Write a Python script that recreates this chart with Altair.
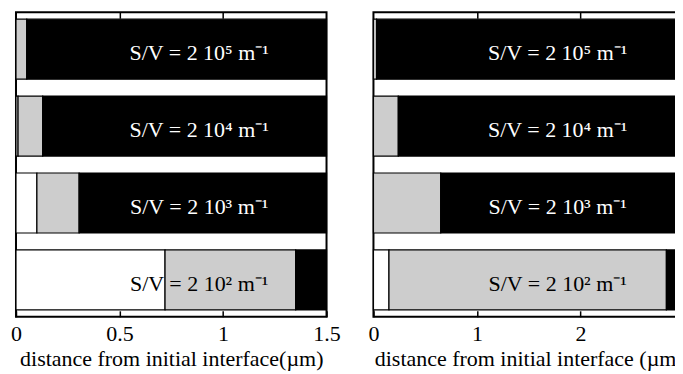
import altair as alt
import pandas as pd

# --- data ---
bars = ["2e5", "2e4", "2e3", "2e2"]
labels = ["S/V = 2 10⁵ m⁻¹", "S/V = 2 10⁴ m⁻¹", "S/V = 2 10³ m⁻¹", "S/V = 2 10² m⁻¹"]

left_white_end = [0.0, 0.01, 0.101, 0.72]
left_dot_end = [0.052, 0.129, 0.305, 1.351]
left_max = 1.5

right_white_end = [0.0, 0.0, 0.0, 0.15]
right_dot_end = [0.03, 0.24, 0.65, 2.83]
right_max = 3.0

left_ticks = [0, 0.5, 1, 1.5]
right_ticks = [0, 1, 2, 3]

FONT = "Liberation Serif"
STIPPLE = "#cdcdcd"


def segments(white_end, dot_end, xmax):
    rows = []
    for b, w, d in zip(bars, white_end, dot_end):
        for s, e, k in [(0.0, w, "white"), (w, d, "dot"), (d, xmax, "black")]:
            if e > s:
                rows.append({"bar": b, "start": s, "end": e, "seg": k})
    return pd.DataFrame(rows)


label_df = pd.DataFrame({"bar": bars, "label": labels})


def panel(white_end, dot_end, xmax, ticks, title, label_x):
    df = segments(white_end, dot_end, xmax)
    xscale = alt.Scale(domain=[0, xmax], nice=False, zero=True)
    yenc = alt.Y("bar:N", sort=bars, axis=None,
                 scale=alt.Scale(paddingInner=0.22, paddingOuter=0.09))
    bar_layer = alt.Chart(df).mark_bar(stroke="black", strokeWidth=1.2).encode(
        x=alt.X("start:Q", scale=xscale,
                axis=alt.Axis(values=ticks, orient="bottom", offset=-6, domain=False,
                              tickSize=6, tickWidth=1.5, tickColor="black", grid=False,
                              labelPadding=7, labelFont=FONT, labelFontSize=22,
                              labelColor="black", labelFlush=False, labelOverlap=False,
                              title=title, titleFont=FONT, titleFontSize=22,
                              titleFontWeight="normal", titleColor="black",
                              titlePadding=4, zindex=1,
                              format="~g")),
        x2="end:Q",
        y=yenc,
        fill=alt.Fill("seg:N", legend=None,
                      scale=alt.Scale(domain=["white", "dot", "black"],
                                      range=["white", STIPPLE, "black"])),
    )
    top_layer = alt.Chart(df).mark_bar(opacity=0).encode(
        x=alt.X("start:Q", scale=xscale,
                axis=alt.Axis(values=ticks[1:-1], orient="top", offset=-6, domain=False,
                              tickSize=6, tickWidth=1.5, tickColor="black", grid=False,
                              labels=False, title=None, zindex=1)),
        x2="end:Q",
        y=yenc,
    )
    text_layer = alt.Chart(label_df).mark_text(font=FONT, fontSize=22, dy=4).encode(
        x=alt.XDatum(label_x, axis=None, scale=xscale),
        y=yenc,
        text="label:N",
        color=alt.condition(alt.datum.bar == "2e2", alt.value("black"), alt.value("white")),
    )
    return alt.layer(bar_layer, text_layer, top_layer).resolve_axis(x="independent").properties(
        width=311, height=305,
        view=alt.ViewBackground(stroke="black", strokeWidth=2, fill="white"))


left = panel(left_white_end, left_dot_end, left_max, left_ticks,
             "distance from initial interface(µm)", 0.885)
right = panel(right_white_end, right_dot_end, right_max, right_ticks,
              "distance from initial interface (µm)", 1.78)

chart = alt.hconcat(left, right, spacing=47, bounds="flush").properties(
    padding={"left": 1, "top": 2, "right": -16, "bottom": 0}
).configure_view(stroke="black", strokeWidth=2).configure(background="white")

chart.save("out.html", embed_options={"renderer": "svg", "actions": False})
